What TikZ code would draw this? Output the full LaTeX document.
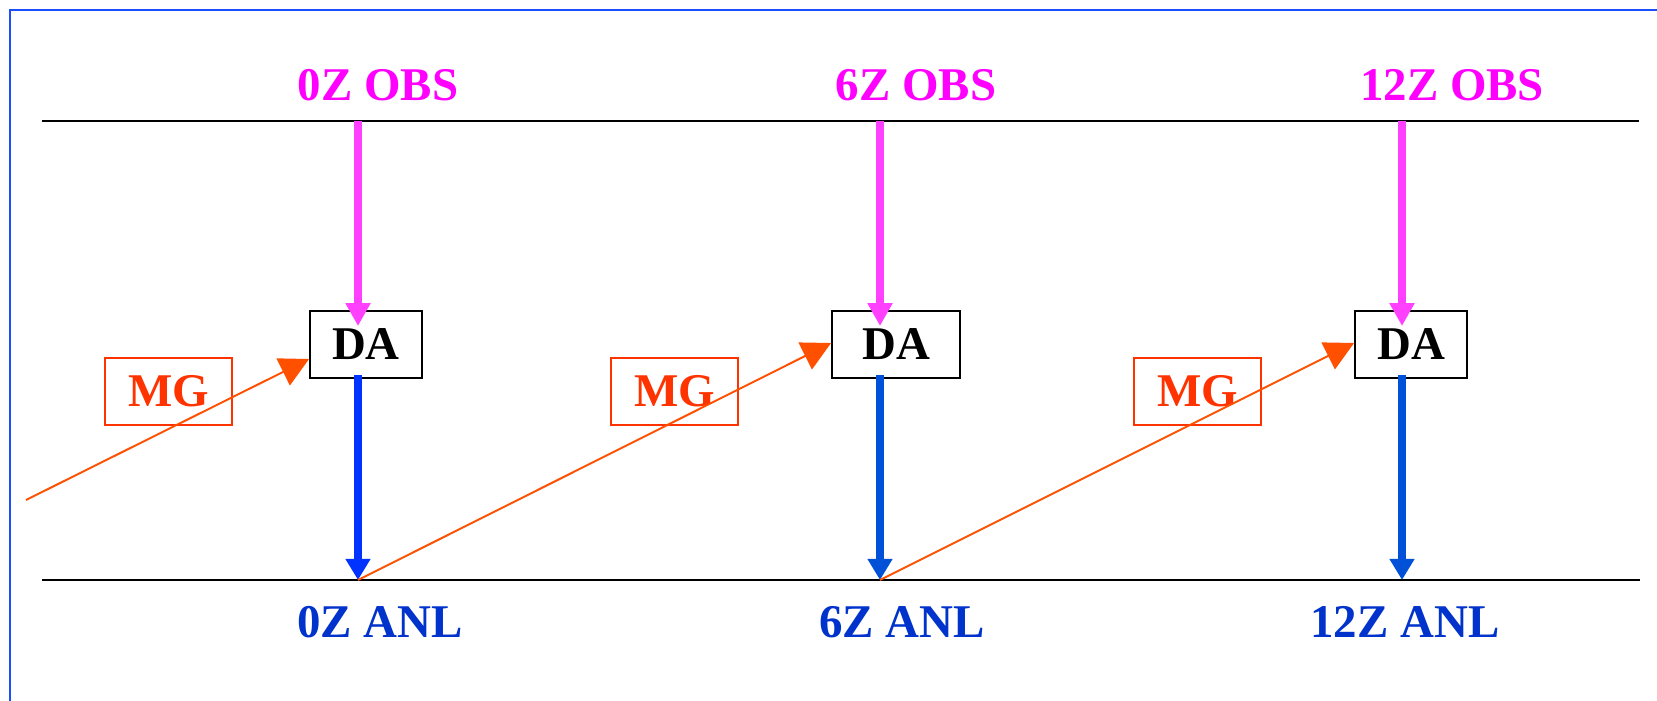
\documentclass[tikz,border=0pt]{standalone}
\usepackage{fontspec}
\setmainfont{Liberation Serif}
\usetikzlibrary{arrows.meta,calc}
\definecolor{obsc}{HTML}{FF00FF}
\definecolor{obsarrow}{HTML}{FF40FF}
\definecolor{anlc}{HTML}{0033CC}
\definecolor{bluea}{HTML}{0033FF}
\definecolor{blueb}{HTML}{0050D8}
\definecolor{mgc}{HTML}{FF3300}
\definecolor{mgline}{HTML}{FF5000}
\definecolor{framec}{HTML}{1A4FFF}
\tikzset{
  lbl/.style={font=\bfseries\fontsize{26.7}{30}\selectfont, inner sep=0pt, anchor=base},
  dabox/.style={draw=black, line width=1.1pt, minimum height=67*0.569pt, inner sep=0pt, font=\bfseries\fontsize{26.7}{30}\selectfont},
  mgbox/.style={draw=mgc, line width=1pt, text=mgc, minimum width=127*0.569pt, minimum height=67*0.569pt, inner sep=0pt, font=\bfseries\fontsize{26.7}{30}\selectfont},
  obsarr/.style={obsarrow, line width=4.4pt, -{Triangle[length=13pt,width=13.5pt]}},
  anlarr/.style={line width=4.4pt, -{Triangle[length=12pt,width=13.5pt]}},
  mgarr/.style={mgline, line width=1.1pt, -{Triangle[length=16.5pt,width=17pt]}},
  timeline/.style={black, line width=1.1pt}
}
\begin{document}
\begin{tikzpicture}[x=0.02cm,y=-0.02cm]
\useasboundingbox (0,0) rectangle (1657,700);
\fill[white] (0,0) rectangle (1657,700);
\draw[framec, line width=1.4pt] (10,720) -- (10,10) -- (1680,10);
% time lines
\coordinate (tl) at (42,121);
\coordinate (tr) at (1639,121);
\coordinate (bl) at (42,580);
\coordinate (br) at (1640,580);
\draw[timeline] (tl) -- (tr);
\draw[timeline] (bl) -- (br);
% labels
\node[lbl, text=obsc] (obs0) at (378,100) {0Z OBS};
\node[lbl, text=obsc] (obs6) at (916,100) {6Z OBS};
\node[lbl, text=obsc] (obs12) at (1452,100) {12Z OBS};
\node[lbl, text=anlc] (anl0) at (380,637) {0Z ANL};
\node[lbl, text=anlc] (anl6) at (902,637) {6Z ANL};
\node[lbl, text=anlc] (anl12) at (1405,637) {12Z ANL};
% DA boxes
\node[dabox, minimum width=112*0.569pt] (da0) at (366,344.5) {DA};
\node[dabox, minimum width=128*0.569pt] (da6) at (896,344.5) {DA};
\node[dabox, minimum width=112*0.569pt] (da12) at (1411,344.5) {DA};
% MG boxes
\node[mgbox] (mg0) at (168.5,391.5) {MG};
\node[mgbox] (mg6) at (674.5,391.5) {MG};
\node[mgbox] (mg12) at (1197.5,391.5) {MG};
% column coordinates
\coordinate (o0) at (358,121);
\coordinate (o6) at (880,121);
\coordinate (o12) at (1402,121);
\coordinate (ot0) at (358,326);
\coordinate (ot6) at (880,326);
\coordinate (ot12) at (1402,326);
\coordinate (ds0) at (358,375);
\coordinate (ds6) at (880,375);
\coordinate (ds12) at (1402,375);
\coordinate (a0) at (358,580);
\coordinate (a6) at (880,580);
\coordinate (a12) at (1402,580);
\coordinate (start) at (26,500);
% obs arrows
\draw[obsarr] (o0) -- (ot0);
\draw[obsarr] (o6) -- (ot6);
\draw[obsarr] (o12) -- (ot12);
% anl arrows
\draw[anlarr, bluea] (ds0) -- (a0);
\draw[anlarr, blueb] (ds6) -- (a6);
\draw[anlarr, blueb] (ds12) -- (a12);
% MG arrows
\draw[mgarr] (start) -- ($(da0.west)+(0,14.5)$);
\draw[mgarr] (a0) -- ($(da6.west)+(0,-1.5)$);
\draw[mgarr] (a6) -- ($(da12.west)+(0,-1.5)$);
\end{tikzpicture}
\end{document}
